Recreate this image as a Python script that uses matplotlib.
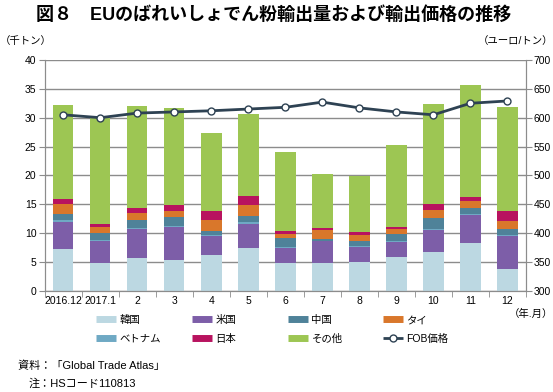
import matplotlib
matplotlib.use("Agg")
import matplotlib.pyplot as plt
from matplotlib.lines import Line2D
import numpy as np

plt.rcParams['font.family'] = ['Liberation Sans', 'Noto Sans CJK JP']

months = ["2016.12", "2017.1", "2", "3", "4", "5", "6", "7", "8", "9", "10", "11", "12"]

# 千トン
korea   = [7.25, 4.8, 5.7, 5.4, 6.15, 7.4, 4.75, 4.75, 5.0, 5.85, 6.65, 8.3, 3.8]
usa     = [4.75, 3.8, 5.0, 5.6, 3.3, 4.25, 2.65, 3.85, 2.6, 2.55, 3.85, 4.85, 5.7]
vietnam = [0.2, 0.2, 0.25, 0.25, 0.15, 0.2, 0.25, 0.1, 0.2, 0.2, 0.3, 0.2, 0.2]
china   = [1.2, 1.2, 1.4, 1.5, 0.7, 1.2, 1.5, 0.2, 0.8, 1.3, 1.8, 0.95, 1.1]
thai    = [1.6, 1.1, 1.2, 1.1, 2.05, 1.85, 0.7, 1.65, 1.0, 0.8, 1.4, 1.2, 1.3]
japan   = [1.0, 0.55, 0.85, 1.0, 1.4, 1.45, 0.45, 0.35, 0.65, 0.4, 1.1, 0.7, 1.65]
other   = [16.2, 18.35, 17.7, 16.85, 13.55, 14.25, 13.8, 9.4, 9.65, 14.2, 17.2, 19.4, 18.15]

# ユーロ/トン
fob = [605, 600, 608, 610, 612, 615, 618, 627, 617, 610, 605, 625, 629]

series = [
    ("韓国", korea, "#bcd8e2"),
    ("米国", usa, "#7d5ea8"),
    ("ベトナム", vietnam, "#6fa9c4"),
    ("中国", china, "#4f8299"),
    ("タイ", thai, "#d9772b"),
    ("日本", japan, "#b8135f"),
    ("その他", other, "#9dc653"),
]
line_col = "#2e4253"

fig = plt.figure(figsize=(5.53, 3.92), dpi=100)
ax = fig.add_axes([0.081, 0.258, 0.87, 0.589])

x = np.arange(len(months))
bottom = np.zeros(len(months))
for name, vals, col in series:
    ax.bar(x, vals, 0.55, bottom=bottom, color=col, zorder=2)
    bottom += np.array(vals)

ax.set_xlim(-0.5, len(months) - 0.5)
ax.set_ylim(0, 40)
ax.set_yticks(range(0, 41, 5))
ax.yaxis.grid(True, color="#8c8c8c", lw=1)
ax.set_axisbelow(True)
ax.set_xticks(x)
ax.set_xticklabels(months, fontsize=7.5)
ax.set_xticks(np.arange(-0.5, len(months)), minor=True)
ax.tick_params(axis="x", which="major", length=0, pad=4)
ax.tick_params(axis="x", which="minor", length=4, color="#8c8c8c")
ax.tick_params(axis="y", labelsize=7.5, length=4, color="#8c8c8c", pad=2)
ax.spines["top"].set_visible(False)
for s in ["left", "right", "bottom"]:
    ax.spines[s].set_color("#8c8c8c")

ax2 = ax.twinx()
ax2.set_ylim(300, 700)
ax2.set_yticks(range(300, 701, 50))
ax2.tick_params(axis="y", labelsize=7.5, length=4, color="#8c8c8c", pad=1.5)
ax2.plot(x, fob, color=line_col, lw=2, marker="o", ms=5,
         mfc="white", mec=line_col, mew=1, zorder=3)
ax2.spines["top"].set_visible(False)
for s in ["left", "right", "bottom"]:
    ax2.spines[s].set_color("#8c8c8c")

fig.text(0.065, 0.962, "図８　EUのばれいしょでん粉輸出量および輸出価格の推移",
         fontsize=13, fontweight="bold", va="center", ha="left")
fig.text(0.0, 0.895, "（千トン）", fontsize=7.5, va="center", ha="left")
fig.text(1.0, 0.895, "（ユーロ/トン）", fontsize=7.5, va="center", ha="right")
fig.text(1.0, 0.2, "（年.月）", fontsize=7.5, va="center", ha="right")

# legend: 4 columns, 2 rows, placed one column at a time
cols = {n: c for n, _, c in series}
def h(n):
    return Line2D([], [], color=cols[n], lw=5, solid_capstyle="butt")
fob_handle = Line2D([], [], color=line_col, lw=2, marker="o", ms=5, mfc="white",
                    mec=line_col, solid_capstyle="butt")
legend_cols = [
    ([h("韓国"), h("ベトナム")], ["韓国", "ベトナム"]),
    ([h("米国"), h("日本")], ["米国", "日本"]),
    ([h("中国"), h("その他")], ["中国", "その他"]),
    ([h("タイ"), fob_handle], ["タイ", "FOB価格"]),
]
col_x = [98, 194, 290, 385]
for (hs, ls), px in zip(legend_cols, col_x):
    fig.legend(hs, ls, loc="upper left", bbox_to_anchor=(px / 553 - 0.012, 0.207),
               frameon=False, fontsize=7.5, handlelength=2.0, handletextpad=0.3,
               labelspacing=0.85, borderaxespad=0)

fig.text(0.033, 0.066, "資料：「Global Trade Atlas」", fontsize=8, va="center", ha="left")
fig.text(0.052, 0.022, "注：HSコード110813", fontsize=8, va="center", ha="left")

fig.savefig("out.png", dpi=100)
